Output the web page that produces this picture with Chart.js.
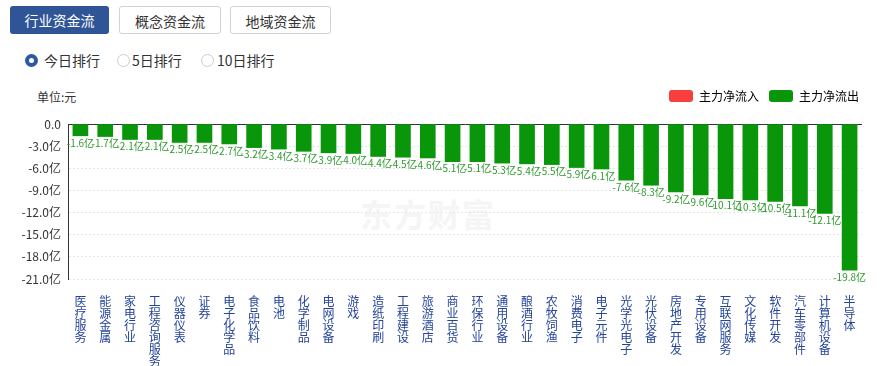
<!DOCTYPE html>
<html>
<head>
<meta charset="utf-8">
<script src="https://cdn.jsdelivr.net/npm/chart.js@4"></script>
<style>
  body { margin: 0; width: 884px; height: 366px; background: #fff; font-family: "Noto Sans CJK SC", sans-serif; position: relative; overflow: hidden; }
  .btn { position: absolute; top: 6px; height: 28px; line-height: 28px; text-align: center; font-size: 14px; border-radius: 3px; box-sizing: border-box; }
  .on { background: #2f5597; color: #fff; }
  .off { background: #fff; color: #333; border: 1px solid #ccd3dc; }
  .radio { position: absolute; top: 52px; font-size: 14px; color: #333; line-height: 16px; }
  .dot { position: absolute; top: 54px; width: 13px; height: 13px; border-radius: 50%; box-sizing: border-box; }
  #unit { position: absolute; left: 37px; top: 88px; font-size: 12px; color: #333; }
  #mark { position: absolute; left: 360px; top: 190px; font-size: 32px; font-weight: bold; color: #f5f5f5; letter-spacing: 2px; }
  #wrap { position: absolute; left: 0; top: 80px; width: 884px; height: 286px; }
</style>
</head>
<body>
<div class="btn on" style="left:10px;width:99px">行业资金流</div>
<div class="btn off" style="left:119px;width:102px">概念资金流</div>
<div class="btn off" style="left:230px;width:101px">地域资金流</div>

<div class="dot" style="left:25px;border:4px solid #2c5aa0"></div>
<div class="radio" style="left:44px">今日排行</div>
<div class="dot" style="left:117px;border:1px solid #ccc"></div>
<div class="radio" style="left:132px">5日排行</div>
<div class="dot" style="left:201px;border:1px solid #ccc"></div>
<div class="radio" style="left:217px">10日排行</div>

<div id="unit">单位:元</div>
<div id="mark">东方财富</div>
<div id="wrap"><canvas id="chart"></canvas></div>

<script>
// 行业名称
const industries = ["医疗服务", "能源金属", "家电行业", "工程咨询服务", "仪器仪表", "证券", "电子化学品", "食品饮料",
  "电池", "化学制品", "电网设备", "游戏", "造纸印刷", "工程建设", "旅游酒店", "商业百货",
  "环保行业", "通用设备", "酿酒行业", "农牧饲渔", "消费电子", "电子元件", "光学光电子", "光伏设备",
  "房地产开发", "专用设备", "互联网服务", "文化传媒", "软件开发", "汽车零部件", "计算机设备", "半导体"];
// 主力净流出 (亿)
const netFlow = [-1.6, -1.7, -2.1, -2.1, -2.5, -2.5, -2.7, -3.2,
  -3.4, -3.7, -3.9, -4.0, -4.4, -4.5, -4.6, -5.1,
  -5.1, -5.3, -5.4, -5.5, -5.9, -6.1, -7.6, -8.3,
  -9.2, -9.6, -10.1, -10.3, -10.5, -11.1, -12.1, -19.8];
const seriesNames = ["主力净流入", "主力净流出"];
const yTicks = [0, -3, -6, -9, -12, -15, -18, -21];

const RED = "#fa3d3d";
const GREEN = "#0a960a";

// 柱子下方的数值标签
const valueLabels = {
  id: "valueLabels",
  afterDatasetsDraw(chart) {
    const ctx = chart.ctx;
    const meta = chart.getDatasetMeta(0);
    ctx.save();
    ctx.font = "10px 'Noto Sans CJK SC', sans-serif";
    ctx.fillStyle = "#2f9a2f";
    ctx.textAlign = "center";
    ctx.textBaseline = "top";
    meta.data.forEach((bar, i) => {
      ctx.fillText(netFlow[i].toFixed(1) + "亿", bar.x, bar.y + 2);
    });
    ctx.restore();
  }
};

// 图例高度固定, 稍微右移
const legendHeight = {
  id: "legendHeight",
  beforeInit(chart) {
    const fit = chart.legend.fit;
    chart.legend.fit = function () {
      fit.bind(this)();
      this.height = 44;
    };
    const draw = chart.legend.draw;
    chart.legend.draw = function () {
      this.ctx.save();
      this.ctx.translate(7, 0);
      draw.apply(this, arguments);
      this.ctx.restore();
    };
  }
};

new Chart(document.getElementById("chart"), {
  type: "bar",
  data: {
    labels: industries.map(s => s.split("")),
    datasets: [{
      label: seriesNames[1],
      data: netFlow,
      backgroundColor: netFlow.map(v => v >= 0 ? RED : GREEN),
      barThickness: 15
    }]
  },
  options: {
    responsive: true,
    maintainAspectRatio: false,
    animation: false,
    layout: { padding: { left: 0, right: 22, top: 0, bottom: 0 } },
    plugins: {
      tooltip: { enabled: false },
      legend: {
        position: "top",
        align: "end",
        labels: {
          boxWidth: 24,
          boxHeight: 12,
          useBorderRadius: true,
          borderRadius: 3,
          padding: 10,
          color: "#444",
          font: { size: 12, family: "'Noto Sans CJK SC', sans-serif" },
          generateLabels: () => seriesNames.map((name, i) => ({
            text: name,
            fillStyle: i === 0 ? RED : GREEN,
            strokeStyle: i === 0 ? RED : GREEN,
            lineWidth: 0,
            borderRadius: 3,
            datasetIndex: 0
          }))
        }
      }
    },
    scales: {
      x: {
        grid: { display: false },
        border: { display: false },
        ticks: {
          autoSkip: false,
          maxRotation: 0,
          padding: 8,
          color: "#23449a",
          font: { size: 12, family: "'Noto Sans CJK SC', sans-serif", lineHeight: 1.0 }
        },
        afterFit(scale) { scale.height = 87; }
      },
      y: {
        min: -21,
        max: 0,
        afterBuildTicks(scale) { scale.ticks = yTicks.map(v => ({ value: v })); },
        afterFit(scale) { scale.width = 68; },
        border: { color: "#333", width: 1, dash: ctx => ctx.tick && ctx.tick.value === 0 ? [] : [2, 2] },
        grid: {
          drawTicks: false,
          color: ctx => ctx.tick && ctx.tick.value === 0 ? "#333" : "#e6e6e6"
        },
        ticks: {
          padding: 7,
          color: "#333",
          font: { size: 12, family: "'Noto Sans CJK SC', sans-serif" },
          callback: v => v === 0 ? "0.0" : v.toFixed(1) + "亿"
        }
      }
    }
  },
  plugins: [valueLabels, legendHeight]
});
</script>
</body>
</html>
